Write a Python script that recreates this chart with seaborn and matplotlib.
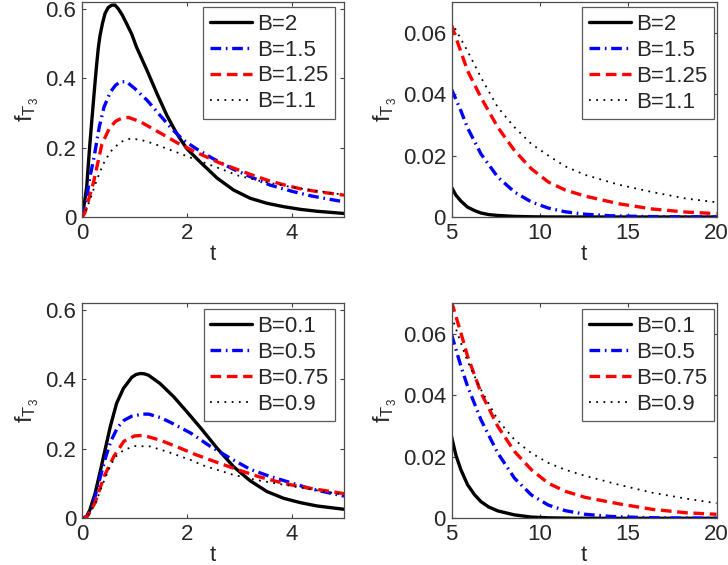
import matplotlib
matplotlib.use("Agg")
import matplotlib.pyplot as plt
import seaborn as sns

# ---------------------------------------------------------------------------
# VALUES
# ---------------------------------------------------------------------------
# top left panel, B > 1, t in [0, 5]
t_B2 = [0, 0.025, 0.09, 0.12, 0.15, 0.185, 0.22, 0.25, 0.28, 0.31, 0.34, 0.39, 0.44, 0.5, 0.57,
        0.63, 0.69, 0.77, 0.85, 0.95, 1.04, 1.24, 1.43, 1.62, 1.81, 2.0, 2.26, 2.58, 2.89, 3.21,
        3.53, 3.85, 4.17, 4.49, 5.0]
f_B2 = [0, 0.019, 0.087, 0.15, 0.21, 0.274, 0.337, 0.39, 0.44, 0.486, 0.52, 0.558, 0.587, 0.604, 0.611,
        0.611, 0.601, 0.582, 0.558, 0.527, 0.49, 0.423, 0.356, 0.293, 0.24, 0.197, 0.158, 0.112, 0.078, 0.054,
        0.0395, 0.0297, 0.022, 0.0165, 0.0102]

t_B15 = [0, 0.05, 0.1, 0.15, 0.22, 0.25, 0.33, 0.42, 0.54, 0.64, 0.73, 0.85, 1.01, 1.24, 1.49,
         1.71, 1.94, 2.19, 2.48, 2.87, 3.24, 3.59, 4.01, 4.38, 4.84, 5.0]
f_B15 = [0, 0.02, 0.065, 0.115, 0.165, 0.19, 0.26, 0.317, 0.36, 0.38, 0.39, 0.39, 0.37, 0.337, 0.293,
         0.255, 0.221, 0.196, 0.17, 0.139, 0.1145, 0.092, 0.074, 0.0606, 0.048, 0.044]

t_B125 = [0, 0.05, 0.09, 0.22, 0.38, 0.52, 0.64, 0.76, 0.89, 1.11, 1.52, 1.84, 2.16, 2.32, 2.61,
          3.23, 3.54, 3.86, 4.18, 4.5, 4.88, 5.0]
f_B125 = [0, 0.01, 0.03, 0.1, 0.21, 0.255, 0.276, 0.285, 0.287, 0.275, 0.24, 0.212, 0.188, 0.177, 0.157,
          0.122, 0.106, 0.0925, 0.081, 0.073, 0.0655, 0.063]

t_B11 = [0, 0.05, 0.15, 0.28, 0.41, 0.54, 0.73, 0.92, 1.11, 1.36, 1.62, 1.87, 2.13, 2.38, 2.54,
         2.99, 3.4, 4.0, 4.5, 5.0]
f_B11 = [0, 0.01, 0.048, 0.106, 0.154, 0.188, 0.216, 0.226, 0.223, 0.212, 0.197, 0.183, 0.168, 0.154, 0.145,
         0.119, 0.104, 0.086, 0.075, 0.064]

# top right panel, B > 1, tail t in [5, 20]
tt_B2 = [5, 5.25, 5.53, 5.91, 6.3, 6.67, 7.1, 7.62, 8.57, 9.52, 10.5, 12, 14, 20]
ft_B2 = [0.0097, 0.0071, 0.0052, 0.0032, 0.0021, 0.0013, 0.0008, 0.0005, 0.0002, 0.00007, 0.00002, 0, 0, 0]

tt_B15 = [5, 5.53, 5.91, 6.67, 7.62, 8.57, 9.52, 10.48, 11.43, 12.57, 14, 16, 18, 20]
ft_B15 = [0.0416, 0.0346, 0.029, 0.0205, 0.013, 0.0081, 0.0049, 0.0029, 0.0017, 0.0009, 0.0004,
          0.00015, 0.00005, 0.00002]

tt_B125 = [5, 5.91, 6.67, 7.62, 8.57, 9.52, 10.48, 11.43, 12.57, 14.48, 16.38, 18.28, 20]
ft_B125 = [0.0625, 0.0476, 0.0389, 0.0292, 0.0216, 0.0157, 0.0114, 0.0088, 0.0068, 0.0043, 0.0026,
           0.0016, 0.0011]

tt_B11 = [5, 5.91, 6.67, 7.62, 8.57, 9.52, 10.48, 11.43, 12.57, 14.48, 16.38, 18.28, 20]
ft_B11 = [0.0635, 0.054, 0.0454, 0.0357, 0.0292, 0.0238, 0.02, 0.0165, 0.0137, 0.0105, 0.0081,
          0.006, 0.0048]

# bottom left panel, B < 1, t in [0, 5]
t_B01 = [0, 0.08, 0.15, 0.25, 0.34, 0.44, 0.54, 0.66, 0.79, 0.95, 1.03, 1.11, 1.19, 1.27, 1.49,
         1.75, 2.0, 2.26, 2.58, 2.89, 3.21, 3.53, 3.85, 4.17, 4.49, 5.0]
f_B01 = [0, 0.003, 0.024, 0.072, 0.13, 0.197, 0.264, 0.331, 0.374, 0.406, 0.414, 0.417, 0.416, 0.412, 0.388,
         0.35, 0.307, 0.261, 0.2015, 0.149, 0.108, 0.077, 0.0575, 0.045, 0.0354, 0.026]

t_B05 = [0, 0.1, 0.2, 0.36, 0.46, 0.55, 0.68, 0.8, 0.95, 1.15, 1.27, 1.5, 1.73, 2.08, 2.43,
         2.8, 3.21, 3.56, 3.93, 4.34, 4.75, 5.0]
f_B05 = [0, 0.006, 0.035, 0.125, 0.18, 0.222, 0.262, 0.282, 0.294, 0.3, 0.3, 0.29, 0.273, 0.245, 0.209,
         0.1755, 0.141, 0.122, 0.105, 0.086, 0.072, 0.064]

t_B075 = [0, 0.1, 0.25, 0.42, 0.61, 0.8, 1.0, 1.17, 1.49, 1.81, 2.16, 2.41, 2.99, 3.37, 3.69,
          4.0, 4.37, 4.77, 5.0]
f_B075 = [0, 0.005, 0.045, 0.12, 0.179, 0.222, 0.237, 0.239, 0.225, 0.206, 0.184, 0.17, 0.139, 0.12, 0.107,
          0.096, 0.086, 0.0766, 0.071]

t_B09 = [0, 0.1, 0.25, 0.4, 0.55, 0.66, 0.8, 1.01, 1.3, 1.68, 2.07, 2.32, 2.89, 3.34, 3.72,
         4.0, 4.5, 5.0]
f_B09 = [0, 0.005, 0.04, 0.1, 0.155, 0.18, 0.197, 0.208, 0.207, 0.189, 0.168, 0.152, 0.125, 0.11, 0.1,
         0.093, 0.08, 0.068]

# bottom right panel, B < 1, tail t in [5, 20]
tt_B01 = [5, 5.25, 5.53, 5.91, 6.3, 6.67, 7.1, 7.62, 8.57, 9.52, 10.48, 12, 14, 20]
ft_B01 = [0.0266, 0.0205, 0.0158, 0.0109, 0.0077, 0.0054, 0.0037, 0.0024, 0.0011, 0.0004, 0.00015,
          0.00002, 0, 0]

tt_B05 = [5, 5.53, 5.91, 6.67, 7.62, 8.57, 9.52, 10.48, 11.43, 12.57, 14, 16, 18, 20]
ft_B05 = [0.0598, 0.0495, 0.0429, 0.032, 0.0212, 0.013, 0.0076, 0.0043, 0.0025, 0.0013, 0.0006,
          0.0002, 0.00007, 0.00002]

tt_B075 = [5, 5.53, 5.91, 6.67, 7.62, 8.57, 9.52, 10.48, 11.43, 12.57, 14.48, 16.38, 18.28, 20]
ft_B075 = [0.0705, 0.0603, 0.0527, 0.0408, 0.0299, 0.0217, 0.0158, 0.0114, 0.0088, 0.0068, 0.0047,
           0.0029, 0.0018, 0.0013]

tt_B09 = [5, 5.53, 5.91, 6.67, 7.62, 8.57, 9.52, 10.48, 11.43, 12.57, 14.48, 16.38, 18.28, 20]
ft_B09 = [0.0658, 0.057, 0.051, 0.0418, 0.032, 0.0255, 0.0212, 0.018, 0.0158, 0.0138, 0.0109,
          0.0083, 0.0064, 0.0049]

labels_top = ["B=2", "B=1.5", "B=1.25", "B=1.1"]
labels_bottom = ["B=0.1", "B=0.5", "B=0.75", "B=0.9"]

# ---------------------------------------------------------------------------
# STYLE
# ---------------------------------------------------------------------------
sns.set_theme(style="ticks")
plt.rcParams["font.family"] = ["Liberation Sans", "DejaVu Sans"]
plt.rcParams["mathtext.fontset"] = "custom"
plt.rcParams["mathtext.rm"] = "Liberation Sans"
plt.rcParams["mathtext.it"] = "Liberation Sans"

FS = 16
styles = [
    dict(color="black", linewidth=2.4, linestyle="-"),
    dict(color="#0000ff", linewidth=2.4, linestyle=(0, (3.2, 1.4, 0.5, 1.4))),
    dict(color="#ff0000", linewidth=2.4, linestyle=(0, (3.2, 1.7))),
    dict(color="black", linewidth=1.3, linestyle=(0, (1, 3))),
]

fig = plt.figure(figsize=(7.28, 5.65), dpi=100)
W, H = 728, 565


def make_axes(x0, x1, y0, y1):
    # pixel box (top-left origin) -> figure fraction
    return fig.add_axes([x0 / W, (H - y1) / H, (x1 - x0) / W, (y1 - y0) / H])


def draw_panel(ax, series, labels, xlim, xticks, ylim, yticks, yticklabels, anchor):
    for (t, f), lab, st in zip(series, labels, styles):
        sns.lineplot(x=t, y=f, ax=ax, label=lab, sort=False, estimator=None, **st)
    ax.set_xlim(*xlim)
    ax.set_ylim(*ylim)
    ax.set_xticks(xticks)
    ax.set_xticklabels([str(v) for v in xticks])
    ax.set_yticks(yticks)
    ax.set_yticklabels(yticklabels)
    ax.tick_params(direction="in", length=3, width=0.8, top=True, right=True,
                   labelsize=FS, pad=4, color="0.25")
    for sp in ax.spines.values():
        sp.set_visible(True)
        sp.set_color("0.3")
        sp.set_linewidth(0.9)
    ax.set_xlabel("t", fontsize=FS, labelpad=0)
    ax.set_ylabel(r"$\mathrm{f_{T_3}}$", fontsize=FS + 1, labelpad=3)
    leg = ax.legend(loc="upper right", bbox_to_anchor=anchor, borderaxespad=0,
                    fontsize=FS, handlelength=1.9, handletextpad=0.22, labelspacing=0.22,
                    borderpad=0.3, fancybox=False, framealpha=1, edgecolor="0.35")
    leg.get_frame().set_linewidth(0.9)


ax_tl = make_axes(82, 344, 2, 217)
ax_tr = make_axes(451.5, 716.5, 2, 217)
ax_bl = make_axes(82, 344, 303, 518.3)
ax_br = make_axes(451.5, 716.5, 303, 518.3)

left_yt = [0, 0.2, 0.4, 0.6]
left_yl = ["0", "0.2", "0.4", "0.6"]
right_yt = [0, 0.02, 0.04, 0.06]
right_yl = ["0", "0.02", "0.04", "0.06"]

draw_panel(ax_tl, [(t_B2, f_B2), (t_B15, f_B15), (t_B125, f_B125), (t_B11, f_B11)], labels_top,
           (0, 5), [0, 2, 4], (0, 0.62), left_yt, left_yl, (0.966, 0.977))
draw_panel(ax_tr, [(tt_B2, ft_B2), (tt_B15, ft_B15), (tt_B125, ft_B125), (tt_B11, ft_B11)], labels_top,
           (5, 20), [5, 10, 15, 20], (0, 0.07), right_yt, right_yl, (0.99, 0.975))
draw_panel(ax_bl, [(t_B01, f_B01), (t_B05, f_B05), (t_B075, f_B075), (t_B09, f_B09)], labels_bottom,
           (0, 5), [0, 2, 4], (0, 0.62), left_yt, left_yl, (0.966, 0.971))
draw_panel(ax_br, [(tt_B01, ft_B01), (tt_B05, ft_B05), (tt_B075, ft_B075), (tt_B09, ft_B09)], labels_bottom,
           (5, 20), [5, 10, 15, 20], (0, 0.07), right_yt, right_yl, (0.99, 0.971))

fig.savefig("out.png", dpi=100)
plt.close(fig)
